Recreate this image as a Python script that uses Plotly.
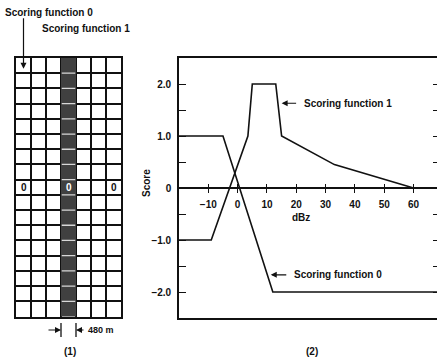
import plotly.graph_objects as go

# ---- data -------------------------------------------------------------
# Scoring function 1 (score vs. reflectivity)
sf1_dbz = [-20, -9, 3.5, 5, 13, 15, 33, 60]
sf1_score = [-1.0, -1.0, 1.0, 2.0, 2.0, 1.0, 0.45, 0.0]

# Scoring function 0
sf0_dbz = [-20, -5, 12, 68]
sf0_score = [1.0, 1.0, -2.0, -2.0]

# x-axis ticks (dBz) and y-axis ticks (score)
x_ticks = [-10, 0, 10, 20, 30, 40, 50, 60]
x_tick_text = ["\u221210", "0", "10", "20", "30", "40", "50", "60"]
y_ticks = [-2.0, -1.5, -1.0, -0.5, 0.0, 0.5, 1.0, 1.5, 2.0]
y_tick_text = ["\u22122.0", "", "\u22121.0", "", "0", "", "1.0", "", "2.0"]

# grid of cells: 7 columns x 17 rows, scoring column highlighted
n_cols = 7
n_rows = 17
score_col = 3
centre_row = 8

W, H = 437, 362
FONT = "Liberation Sans, Arial, sans-serif"
INK = "#111111"


def px_x(p):
    return p / W


def px_y(p):
    return 1 - p / H


# right panel domain
dom_x2 = [px_x(179), 1.0]
dom_y2 = [px_y(318), px_y(58)]
zero_pos = (dom_y2[0] + dom_y2[1]) / 2

# left panel domain
dom_x1 = [px_x(16), px_x(121)]
dom_y1 = [px_y(316.5), px_y(58)]

fig = go.Figure()

# ---- panel (1): cell grid ------------------------------------------
z = [[1 if c == score_col else None for c in range(n_cols)] for r in range(n_rows)]
fig.add_trace(go.Heatmap(
    z=z, x=list(range(n_cols)), y=list(range(n_rows)),
    colorscale=[[0, "#404040"], [1, "#404040"]], showscale=False,
    hoverinfo="skip", xaxis="x4", yaxis="y4",
))
# light separators between the shaded cells
sep_x, sep_y = [], []
for r in range(1, n_rows):
    sep_x += [score_col - 0.45, score_col + 0.45, None]
    sep_y += [r - 0.5, r - 0.5, None]
fig.add_trace(go.Scatter(x=sep_x, y=sep_y, mode="lines",
                         line=dict(color="#d8d8d8", width=1.3),
                         hoverinfo="skip", xaxis="x4", yaxis="y4"))

# ---- panel (2): scoring functions ---------------------------------
fig.add_trace(go.Scatter(x=sf1_dbz, y=sf1_score, mode="lines",
                         line=dict(color=INK, width=1.6), xaxis="x", yaxis="y",
                         hoverinfo="skip", cliponaxis=False))
fig.add_trace(go.Scatter(x=sf0_dbz, y=sf0_score, mode="lines",
                         line=dict(color=INK, width=1.6), xaxis="x", yaxis="y",
                         hoverinfo="skip", cliponaxis=False))
# invisible traces to activate the overlay axes
fig.add_trace(go.Scatter(x=[0], y=[0], mode="markers", marker=dict(opacity=0),
                         xaxis="x2", yaxis="y", hoverinfo="skip"))
fig.add_trace(go.Scatter(x=[0], y=[0], mode="markers", marker=dict(opacity=0),
                         xaxis="x3", yaxis="y", hoverinfo="skip"))
fig.add_trace(go.Scatter(x=[0], y=[0], mode="markers", marker=dict(opacity=0),
                         xaxis="x", yaxis="y2", hoverinfo="skip"))

xr = [-20, 68]
yr = [-2.5, 2.5]
TICKFONT = dict(size=10, family=FONT, color=INK, weight="bold")

fig.update_layout(
    width=W, height=H,
    margin=dict(l=0, r=0, t=0, b=0, pad=0),
    paper_bgcolor="white", plot_bgcolor="white",
    showlegend=False,
    font=dict(family=FONT, size=10, color=INK),
    # frame (bottom + top lines)
    xaxis=dict(domain=dom_x2, range=xr, showline=True, mirror=True,
               linecolor=INK, linewidth=1.6, showgrid=False, zeroline=False,
               showticklabels=False, ticks=""),
    # zero line with downward ticks and labels
    xaxis2=dict(overlaying="x", range=xr, anchor="free", position=zero_pos,
                showline=True, linecolor=INK, linewidth=1.6, showgrid=False,
                zeroline=False, ticks="outside", ticklen=4, tickwidth=1.4,
                tickcolor=INK, tickvals=x_ticks, ticktext=x_tick_text,
                tickfont=TICKFONT, ticklabelstandoff=3),
    # upward half of the crossing ticks
    xaxis3=dict(overlaying="x", range=xr, anchor="free", position=zero_pos,
                showline=False, showgrid=False, zeroline=False,
                ticks="inside", ticklen=4, tickwidth=1.4, tickcolor=INK,
                tickvals=x_ticks, showticklabels=False),
    yaxis=dict(domain=dom_y2, range=yr, anchor="x", showline=True,
               linecolor=INK, linewidth=1.6, showgrid=False, zeroline=False,
               ticks="inside", ticklen=7, tickwidth=1.4, tickcolor=INK,
               tickvals=y_ticks, ticktext=y_tick_text,
               tickfont=TICKFONT, ticklabelstandoff=4),
    yaxis2=dict(overlaying="y", side="right", anchor="x", range=yr,
                showline=False, showgrid=False, zeroline=False,
                ticks="inside", ticklen=4, tickwidth=1.4, tickcolor=INK,
                tickvals=y_ticks, showticklabels=False),
    # cell grid axes
    xaxis4=dict(domain=dom_x1, range=[-0.5, n_cols - 0.5], anchor="y4",
                showline=True, mirror=True, linecolor=INK, linewidth=1.5,
                showgrid=True, gridcolor=INK, gridwidth=1.5,
                tickvals=[c + 0.5 for c in range(n_cols - 1)],
                showticklabels=False, ticks="", zeroline=False),
    yaxis4=dict(domain=dom_y1, range=[n_rows - 0.5, -0.5], anchor="x4",
                showline=True, mirror=True, linecolor=INK, linewidth=1.5,
                showgrid=True, gridcolor=INK, gridwidth=1.5,
                tickvals=[r + 0.5 for r in range(n_rows - 1)],
                showticklabels=False, ticks="", zeroline=False),
)

LABEL = dict(size=10, family=FONT, color=INK, weight="bold")
ann = []


def text(t, x, y, xref="paper", yref="paper", xanchor="center", font=LABEL, **kw):
    ann.append(dict(text=t, x=x, y=y, xref=xref, yref=yref, xanchor=xanchor,
                    yanchor="middle", showarrow=False, font=font, **kw))


def arrow(x, y, ax, ay, xref, yref):
    ann.append(dict(text="", x=x, y=y, xref=xref, yref=yref, showarrow=True,
                    ax=ax, ay=ay, arrowhead=2, arrowsize=1, arrowwidth=1.2,
                    arrowcolor=INK))


# axis titles
text("Score", px_x(146), px_y(183), textangle=-90)
text("dBz", 21.5, px_y(217), xref="x")

# curve labels with arrows
arrow(15, 1.63, 16, 0, "x", "y")
text("Scoring function 1", 21.8, 1.63, xref="x", yref="y", xanchor="left")
arrow(11.3, -1.67, 17, 0, "x", "y")
text("Scoring function 0", 18.6, -1.67, xref="x", yref="y", xanchor="left")

# grid panel labels
text("Scoring function 0", px_x(3), px_y(12), xanchor="left")
arrow(0, 0.2, 0, -52, "x4", "y4")
text("Scoring function 1", px_x(40), px_y(28), xanchor="left")
arrow(score_col, -0.7, 0, -19, "x4", "y4")

# zero markers in the centre row
for c, col in [(0, INK), (n_cols - 1, INK), (score_col, "white")]:
    text("0", c, centre_row, xref="x4", yref="y4",
         font=dict(size=10, family=FONT, color=col, weight="bold"))

# cell width marker
arrow(score_col - 0.5, px_y(330), -14, 0, "x4", "paper")
arrow(score_col + 0.5, px_y(330), 9, 0, "x4", "paper")
text("480 m", px_x(86), px_y(330), xanchor="left",
     font=dict(size=9, family=FONT, color=INK, weight="bold"))

text("(1)", px_x(70), px_y(351))
text("(2)", px_x(312), px_y(351))

fig.update_layout(annotations=ann)

shapes = []
for edge in (score_col - 0.5, score_col + 0.5):
    shapes.append(dict(type="line", xref="x4", yref="paper", x0=edge, x1=edge,
                       y0=px_y(323), y1=px_y(337), line=dict(color=INK, width=1.3)))
fig.update_layout(shapes=shapes)

fig.write_html("out.html")
